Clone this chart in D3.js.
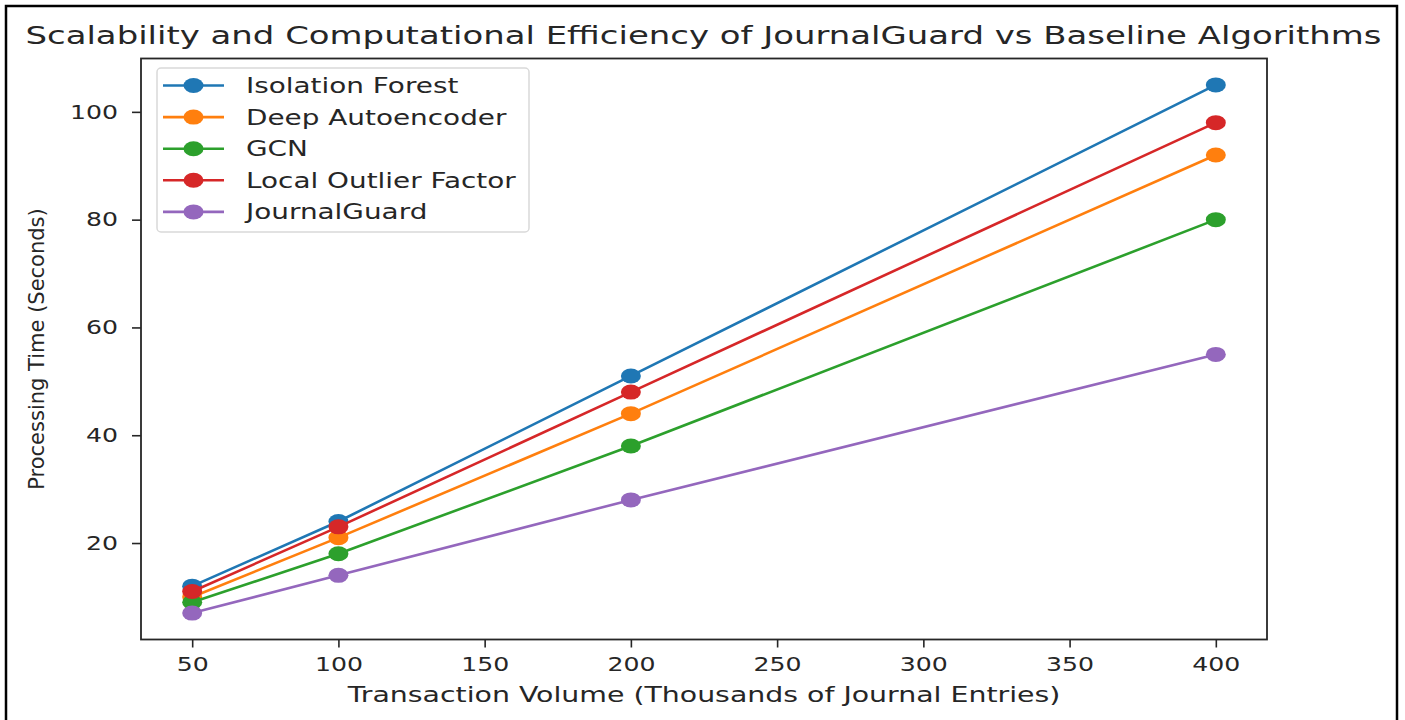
<!DOCTYPE html>
<html>
<head>
<meta charset="utf-8">
<script src="https://cdn.jsdelivr.net/npm/d3@7"></script>
<style>
  body { margin: 0; background: #fff; }
  text { font-family: "DejaVu Sans", sans-serif; fill: #262626; }
</style>
</head>
<body>
<div id="canvas"></div>
<script>
const canvas = d3.select("#canvas");

// data
const volumes = [50, 100, 200, 400];
const seriesNames = ["Isolation Forest", "Deep Autoencoder", "GCN", "Local Outlier Factor", "JournalGuard"];
const isolationForest = [12, 24, 51, 105];
const deepAutoencoder = [10, 21, 44, 92];
const gcn = [9, 18, 38, 80];
const localOutlierFactor = [11, 23, 48, 98];
const journalGuard = [7, 14, 28, 55];
const xTicks = [50, 100, 150, 200, 250, 300, 350, 400];
const yTicks = [20, 40, 60, 80, 100];
const colors = ["#1f77b4", "#ff7f0e", "#2ca02c", "#d62728", "#9467bd"];

const series = [isolationForest, deepAutoencoder, gcn, localOutlierFactor, journalGuard]
    .map((vals, i) => ({ name: seriesNames[i], color: colors[i], points: vals.map((v, j) => ({ x: volumes[j], y: v })) }));

const width = 1405;
const height = 720;
const sx = 1.29; // the picture is stretched sideways
const plot = { left: 141, right: 1267, top: 58.5, bottom: 639.5 };

const svg = canvas.append("svg");
svg.attr("width", width);
svg.attr("height", height);

// outer frame
svg.append("rect")
    .attr("x", 6).attr("y", 6)
    .attr("width", 1391).attr("height", 730)
    .attr("fill", "none").attr("stroke", "#000").attr("stroke-width", 2.5);

const x = d3.scaleLinear()
    .domain([32.5, 417.5])
    .range([plot.left, plot.right]);

const y = d3.scaleLinear()
    .domain([2.1, 109.9])
    .range([plot.bottom, plot.top]);

// axes
const xAxis = svg.append("g")
    .attr("transform", `translate(0, ${plot.bottom})`)
    .call(d3.axisBottom(x).tickValues(xTicks).tickSize(8).tickPadding(10).tickSizeOuter(0));
const yAxis = svg.append("g")
    .attr("transform", `translate(${plot.left}, 0)`)
    .call(d3.axisLeft(y).tickValues(yTicks).tickSize(9).tickPadding(14).tickSizeOuter(0));

[xAxis, yAxis].forEach(a => {
    a.select(".domain").remove();
    a.selectAll(".tick line").attr("stroke", "#262626").attr("stroke-width", 1.6);
    a.selectAll(".tick text").attr("font-size", 19.5).attr("fill", "#262626");
});
xAxis.selectAll(".tick text").attr("transform", `scale(${sx},1)`)
    .attr("x", 0).attr("dy", "0.71em");
yAxis.selectAll(".tick text").each(function() {
    const t = d3.select(this);
    t.attr("transform", `translate(${-9 - 14}, 0) scale(${sx},1)`).attr("x", 0);
});

// lines and markers
const line = d3.line().x(d => x(d.x)).y(d => y(d.y));

series.forEach(s => {
    const g = svg.append("g");
    g.append("path")
        .datum(s.points)
        .attr("d", line)
        .attr("fill", "none")
        .attr("stroke", s.color)
        .attr("stroke-width", 2.6);
    g.selectAll("ellipse").data(s.points).enter().append("ellipse")
        .attr("cx", d => x(d.x))
        .attr("cy", d => y(d.y))
        .attr("rx", 10)
        .attr("ry", 7.5)
        .attr("fill", s.color);
});

// plot frame
svg.append("rect")
    .attr("x", plot.left).attr("y", plot.top)
    .attr("width", plot.right - plot.left).attr("height", plot.bottom - plot.top)
    .attr("fill", "none").attr("stroke", "#262626").attr("stroke-width", 1.8);

// legend
const legend = svg.append("g");
legend.append("rect")
    .attr("x", 157).attr("y", 68)
    .attr("width", 372).attr("height", 164)
    .attr("rx", 4)
    .attr("fill", "#fff").attr("fill-opacity", 0.8)
    .attr("stroke", "#d9d9d9").attr("stroke-width", 1.5);

const rows = legend.selectAll("g.row").data(series).enter().append("g")
    .attr("class", "row")
    .attr("transform", (d, i) => `translate(0, ${85.5 + i * 31.6})`);
rows.append("line")
    .attr("x1", 163).attr("x2", 224)
    .attr("stroke", d => d.color).attr("stroke-width", 2.6);
rows.append("ellipse")
    .attr("cx", 193.5).attr("rx", 10).attr("ry", 7.5)
    .attr("fill", d => d.color);
rows.append("text")
    .attr("transform", "translate(246, 7.5) scale(1.36,1)")
    .attr("font-size", 20.5)
    .text(d => d.name);

// title and axis labels
svg.append("text")
    .attr("transform", "translate(703.5, 44) scale(1.33,1)")
    .attr("text-anchor", "middle")
    .attr("font-size", 25.5)
    .text("Scalability and Computational Efficiency of JournalGuard vs Baseline Algorithms");

svg.append("text")
    .attr("transform", `translate(704, 702) scale(${sx},1)`)
    .attr("text-anchor", "middle")
    .attr("font-size", 22)
    .text("Transaction Volume (Thousands of Journal Entries)");

svg.append("text")
    .attr("transform", "translate(44, 349) rotate(-90)")
    .attr("text-anchor", "middle")
    .attr("font-size", 21)
    .text("Processing Time (Seconds)");
</script>
</body>
</html>
